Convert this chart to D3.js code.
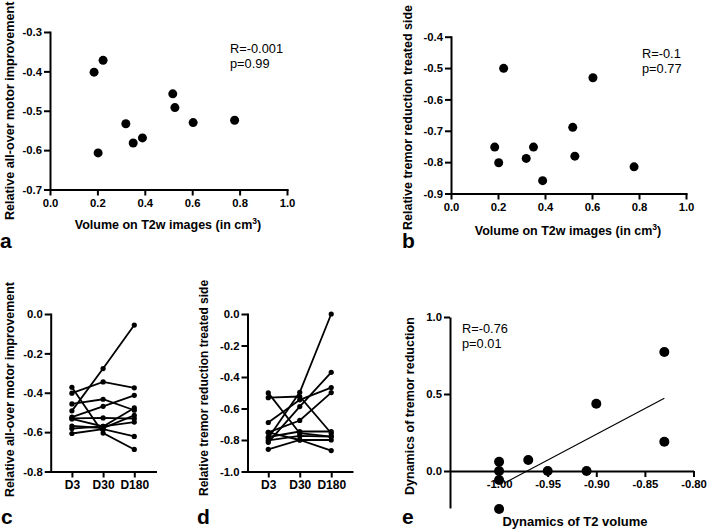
<!DOCTYPE html>
<html>
<head>
<meta charset="utf-8">
<script src="https://cdn.jsdelivr.net/npm/d3@7"></script>
<style>
  html, body { margin: 0; padding: 0; background: #fff; }
  svg { display: block; }
</style>
</head>
<body>
<svg id="chart" width="708" height="530"></svg>
<script>
// ---------- data ----------
const volume      = [0.186, 0.224, 0.203, 0.320, 0.351, 0.390, 0.518, 0.527, 0.604, 0.779];
const motorD3     = [-0.402, -0.372, -0.607, -0.533, -0.582, -0.569, -0.457, -0.492, -0.530, -0.524];
const motorD30    = [-0.345, -0.605, -0.585, -0.571, -0.571, -0.579, -0.433, -0.277, -0.528, -0.469];
const motorD180   = [-0.375, -0.688, -0.622, -0.477, -0.549, -0.515, -0.489, -0.056, -0.531, -0.413];
const tremorD3    = [-0.752, -0.501, -0.802, -0.788, -0.752, -0.859, -0.689, -0.781, -0.531, -0.815];
const tremorD30   = [-0.676, -0.757, -0.774, -0.497, -0.800, -0.800, -0.545, -0.746, -0.524, -0.588];
const tremorD180  = [-0.499, -0.778, -0.778, 0.000, -0.800, -0.867, -0.467, -0.746, -0.757, -0.370];
const timepoints  = ["D3", "D30", "D180"];
const t2Dynamics     = [-1.00, -1.00, -1.00, -1.00, -0.97, -0.95, -0.91, -0.90, -0.83, -0.83];
const tremorDynamics = [0.060, 0.000, -0.058, -0.247, 0.071, 0.000, 0.000, 0.437, 0.773, 0.190];
const fitX = [-0.995, -0.83];
const fitY = [-0.080, 0.472];

const xTicksAB = [0, 0.2, 0.4, 0.6, 0.8, 1.0];
const yTicksA  = [-0.7, -0.6, -0.5, -0.4, -0.3];
const yTicksB  = [-0.9, -0.8, -0.7, -0.6, -0.5, -0.4];
const yTicksC  = [-0.8, -0.6, -0.4, -0.2, 0.0];
const yTicksD  = [-1.0, -0.8, -0.6, -0.4, -0.2, 0.0];
const yTicksE  = [0.0, 0.5, 1.0];
const xTicksE  = [-1.00, -0.95, -0.90, -0.85, -0.80];

// ---------- helpers ----------
const F = "'Liberation Sans', Arial, Helvetica, sans-serif";
const svg = d3.select("#chart");
const fmt1 = d => d.toFixed(1);
const fmt2 = d => d.toFixed(2);

function styleAxis(g, fs) {
  g.selectAll("path.domain").attr("stroke", "#000").attr("stroke-width", 2).attr("stroke-linecap", "square");
  g.selectAll(".tick line").attr("stroke", "#000").attr("stroke-width", 2);
  g.selectAll("text").attr("font-family", F).attr("font-weight", "bold")
    .attr("font-size", fs || 11.3).attr("fill", "#000");
}
function yTitle(x, yBottom, txt, fs) {
  svg.append("text").attr("transform", `translate(${x},${yBottom}) rotate(-90)`)
    .attr("font-family", F).attr("font-weight", "bold").attr("font-size", fs || 12.5)
    .attr("fill", "#000").text(txt);
}
function xTitleCm(cx, y) {
  const t = svg.append("text").attr("x", cx).attr("y", y).attr("text-anchor", "middle")
    .attr("font-family", F).attr("font-weight", "bold").attr("font-size", 12.5).attr("fill", "#000");
  t.append("tspan").text("Volume on T2w images (in cm");
  t.append("tspan").attr("font-size", 8.5).attr("dy", -5).text("3");
  t.append("tspan").attr("dy", 5).text(")");
}
function letter(x, y, l) {
  svg.append("text").attr("x", x).attr("y", y).attr("font-family", F).attr("font-weight", "bold")
    .attr("font-size", 21).attr("fill", "#000").text(l);
}
function stats(x, y, lines) {
  lines.forEach((s, i) => svg.append("text").attr("x", x).attr("y", y + i * 15)
    .attr("font-family", F).attr("font-size", 12.8).attr("fill", "#000").text(s));
}

// ---------- panel a ----------
{
  const x = d3.scaleLinear().domain([0, 1]).range([50, 287]);
  const y = d3.scaleLinear().domain([-0.7, -0.3]).range([189.5, 32]);
  const gx = svg.append("g").attr("transform", `translate(0,${y(-0.7)})`)
    .call(d3.axisBottom(x).tickValues(xTicksAB).tickFormat(fmt1).tickSizeOuter(0));
  const gy = svg.append("g").attr("transform", `translate(${x(0)},0)`)
    .call(d3.axisLeft(y).tickValues(yTicksA).tickFormat(fmt1).tickSizeOuter(0).tickPadding(2));
  styleAxis(gx); styleAxis(gy);
  svg.append("g").selectAll("circle").data(volume).join("circle")
    .attr("cx", d => x(d)).attr("cy", (d, i) => y(motorD3[i])).attr("r", 4.5).attr("fill", "#000");
  stats(230, 52.5, ["R=-0.001", "p=0.99"]);
  yTitle(14, 220, "Relative all-over motor improvement", 12.6);
  xTitleCm(168, 228.5);
  letter(0, 248, "a");
}

// ---------- panel b ----------
{
  const x = d3.scaleLinear().domain([0, 1]).range([451, 686]);
  const y = d3.scaleLinear().domain([-0.9, -0.4]).range([193.5, 36.7]);
  const gx = svg.append("g").attr("transform", `translate(0,${y(-0.9)})`)
    .call(d3.axisBottom(x).tickValues(xTicksAB).tickFormat(fmt1).tickSizeOuter(0));
  const gy = svg.append("g").attr("transform", `translate(${x(0)},0)`)
    .call(d3.axisLeft(y).tickValues(yTicksB).tickFormat(fmt1).tickSizeOuter(0).tickPadding(2));
  styleAxis(gx); styleAxis(gy);
  svg.append("g").selectAll("circle").data(volume).join("circle")
    .attr("cx", d => x(d)).attr("cy", (d, i) => y(tremorD3[i])).attr("r", 4.5).attr("fill", "#000");
  stats(642, 58, ["R=-0.1", "p=0.77"]);
  yTitle(412, 230, "Relative tremor reduction treated side", 12.5);
  xTitleCm(568, 234.5);
  letter(402, 248, "b");
}

// ---------- panel c & d (spaghetti) ----------
function spaghetti(x0, x1, pad, domain, ticks, series, titleX, titleBottom, title, titleFs) {
  const x = d3.scalePoint().domain(timepoints).range([x0, x1]).padding(pad);
  const y = d3.scaleLinear().domain(domain).range([471.5, 314]);
  const gx = svg.append("g").attr("transform", `translate(0,${y(domain[0])})`)
    .call(d3.axisBottom(x).tickSizeOuter(0));
  const gy = svg.append("g").attr("transform", `translate(${x0},0)`)
    .call(d3.axisLeft(y).tickValues(ticks).tickFormat(fmt1).tickSizeOuter(0).tickPadding(2));
  styleAxis(gx, 12); styleAxis(gy);
  const subjects = d3.range(series[0].length).map(i => series.map((s, k) => [timepoints[k], s[i]]));
  const line = d3.line().x(d => x(d[0])).y(d => y(d[1]));
  const g = svg.append("g");
  g.selectAll("path").data(subjects).join("path").attr("d", line)
    .attr("fill", "none").attr("stroke", "#000").attr("stroke-width", 1.8);
  g.selectAll("g.s").data(subjects).join("g").attr("class", "s")
    .selectAll("circle").data(d => d).join("circle")
    .attr("cx", d => x(d[0])).attr("cy", d => y(d[1])).attr("r", 2.6).attr("fill", "#000");
  yTitle(titleX, titleBottom, title, titleFs);
}
spaghetti(50.7, 155.5, 0.68, [-0.8, 0], yTicksC, [motorD3, motorD30, motorD180], 14, 497,
  "Relative all-over motor improvement", 12.4);
letter(1, 524, "c");
spaghetti(247.5, 352, 0.66, [-1.0, 0], yTicksD, [tremorD3, tremorD30, tremorD180], 208, 496,
  "Relative tremor reduction treated side", 12.0);
letter(197, 524, "d");

// ---------- panel e ----------
{
  const x = d3.scaleLinear().domain([-1.0505, -0.80]).range([450, 693.5]);
  const y = d3.scaleLinear().domain([0, 1]).range([471, 317]);
  const yMin = -0.24;
  const gx = svg.append("g").attr("transform", `translate(0,${y(0)})`)
    .call(d3.axisBottom(x).tickValues(xTicksE).tickFormat(fmt2).tickSizeOuter(0));
  const gy = svg.append("g").attr("transform", `translate(${x.range()[0]},0)`)
    .call(d3.axisLeft(y.copy().domain([yMin, 1]).range([y(yMin), y(1)])).tickValues(yTicksE)
      .tickFormat(fmt1).tickSizeOuter(0).tickPadding(2));
  styleAxis(gx); styleAxis(gy);
  gx.selectAll("path.domain").attr("stroke-linecap", "butt");
  gy.selectAll("path.domain").attr("stroke-linecap", "butt");
  svg.append("line").attr("x1", x(fitX[0])).attr("y1", y(fitY[0]))
    .attr("x2", x(fitX[1])).attr("y2", y(fitY[1])).attr("stroke", "#000").attr("stroke-width", 1.2);
  svg.append("g").selectAll("circle").data(t2Dynamics).join("circle")
    .attr("cx", d => x(d)).attr("cy", (d, i) => y(tremorDynamics[i])).attr("r", 5).attr("fill", "#000");
  stats(462, 333, ["R=-0.76", "p=0.01"]);
  yTitle(414, 495, "Dynamics of tremor reduction", 12.5);
  svg.append("text").attr("x", 575).attr("y", 526).attr("text-anchor", "middle")
    .attr("font-family", F).attr("font-weight", "bold").attr("font-size", 13).attr("fill", "#000")
    .text("Dynamics of T2 volume");
  letter(402, 524, "e");
}
</script>
</body>
</html>
